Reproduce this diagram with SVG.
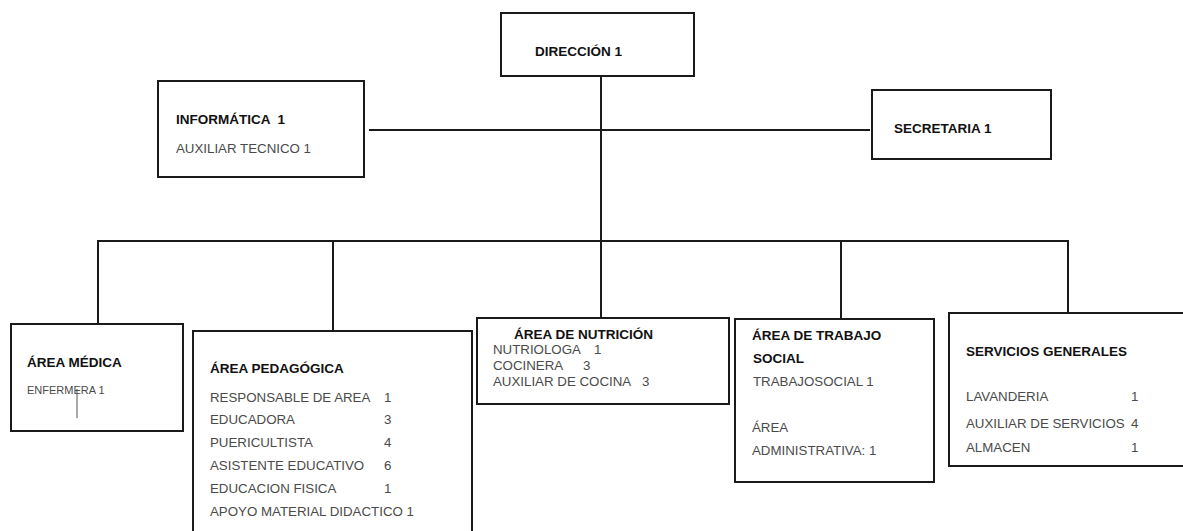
<svg xmlns="http://www.w3.org/2000/svg" width="1183" height="531" viewBox="0 0 1183 531">
<style>
.box{fill:#fff;stroke:#1a1a1a;stroke-width:2}
.ln{fill:none;stroke:#1a1a1a;stroke-width:2}
.t{font-family:"Liberation Sans",Arial,sans-serif;font-size:13.5px;font-weight:bold;fill:#111}
.b{font-family:"Liberation Sans",Arial,sans-serif;font-size:13.3px;fill:#4a4a4a}
.s{font-family:"Liberation Sans",Arial,sans-serif;font-size:11px;fill:#4a4a4a}
</style>
<rect width="1183" height="531" fill="#fff"/>
<g id="connectors">
<line class="ln" x1="601" y1="76" x2="601" y2="241"/>
<line class="ln" x1="369" y1="130" x2="870" y2="130"/>
<line class="ln" x1="97" y1="241" x2="1069" y2="241"/>
<line class="ln" x1="98" y1="241" x2="98" y2="324"/>
<line class="ln" x1="333" y1="241" x2="333" y2="331"/>
<line class="ln" x1="601" y1="241" x2="601" y2="318"/>
<line class="ln" x1="841" y1="241" x2="841" y2="319"/>
<line class="ln" x1="1068" y1="241" x2="1068" y2="313"/>
</g>
<g id="direccion">
<rect class="box" x="501" y="13" width="193" height="63"/>
<text class="t" x="535" y="56">DIRECCIÓN 1</text>
</g>
<g id="informatica">
<rect class="box" x="158" y="81" width="206" height="96"/>
<text class="t" x="176" y="124" xml:space="preserve">INFORMÁTICA  1</text>
<text class="b" x="176" y="153">AUXILIAR TECNICO 1</text>
</g>
<g id="secretaria">
<rect class="box" x="872" y="90" width="179" height="69"/>
<text class="t" x="894" y="133">SECRETARIA 1</text>
</g>
<g id="area-medica">
<rect class="box" x="11" y="324" width="172" height="107"/>
<text class="t" x="27" y="367">ÁREA MÉDICA</text>
<text class="s" x="27" y="394">ENFERMERA 1</text>
<line x1="77" y1="389" x2="77" y2="418" stroke="#555" stroke-width="1"/>
</g>
<g id="area-pedagogica">
<rect class="box" x="193" y="331" width="279" height="210"/>
<text class="t" x="210" y="373">ÁREA PEDAGÓGICA</text>
<text class="b" x="210" y="402">RESPONSABLE DE AREA</text><text class="b" x="384" y="402">1</text>
<text class="b" x="210" y="424">EDUCADORA</text><text class="b" x="384" y="424">3</text>
<text class="b" x="210" y="447">PUERICULTISTA</text><text class="b" x="384" y="447">4</text>
<text class="b" x="210" y="470">ASISTENTE EDUCATIVO</text><text class="b" x="384" y="470">6</text>
<text class="b" x="210" y="493">EDUCACION FISICA</text><text class="b" x="384" y="493">1</text>
<text class="b" x="210" y="516">APOYO MATERIAL DIDACTICO 1</text>
</g>
<g id="area-nutricion">
<rect class="box" x="477" y="318" width="252" height="86"/>
<text class="t" x="514" y="339">ÁREA DE NUTRICIÓN</text>
<text class="b" x="493" y="354">NUTRIOLOGA</text><text class="b" x="594" y="354">1</text>
<text class="b" x="493" y="370">COCINERA</text><text class="b" x="583" y="370">3</text>
<text class="b" x="493" y="386">AUXILIAR DE COCINA</text><text class="b" x="642" y="386">3</text>
</g>
<g id="area-trabajo-social">
<rect class="box" x="735" y="319" width="199" height="163"/>
<text class="t" x="752" y="340">ÁREA DE TRABAJO</text>
<text class="t" x="753" y="363">SOCIAL</text>
<text class="b" x="753" y="386">TRABAJOSOCIAL 1</text>
<text class="b" x="752" y="432">ÁREA</text>
<text class="b" x="752" y="455">ADMINISTRATIVA: 1</text>
</g>
<g id="servicios-generales">
<rect class="box" x="949" y="313" width="240" height="153"/>
<text class="t" x="966" y="356">SERVICIOS GENERALES</text>
<text class="b" x="966" y="401">LAVANDERIA</text><text class="b" x="1131" y="401">1</text>
<text class="b" x="966" y="428">AUXILIAR DE SERVICIOS</text><text class="b" x="1131" y="428">4</text>
<text class="b" x="966" y="452">ALMACEN</text><text class="b" x="1131" y="452">1</text>
</g>
</svg>
